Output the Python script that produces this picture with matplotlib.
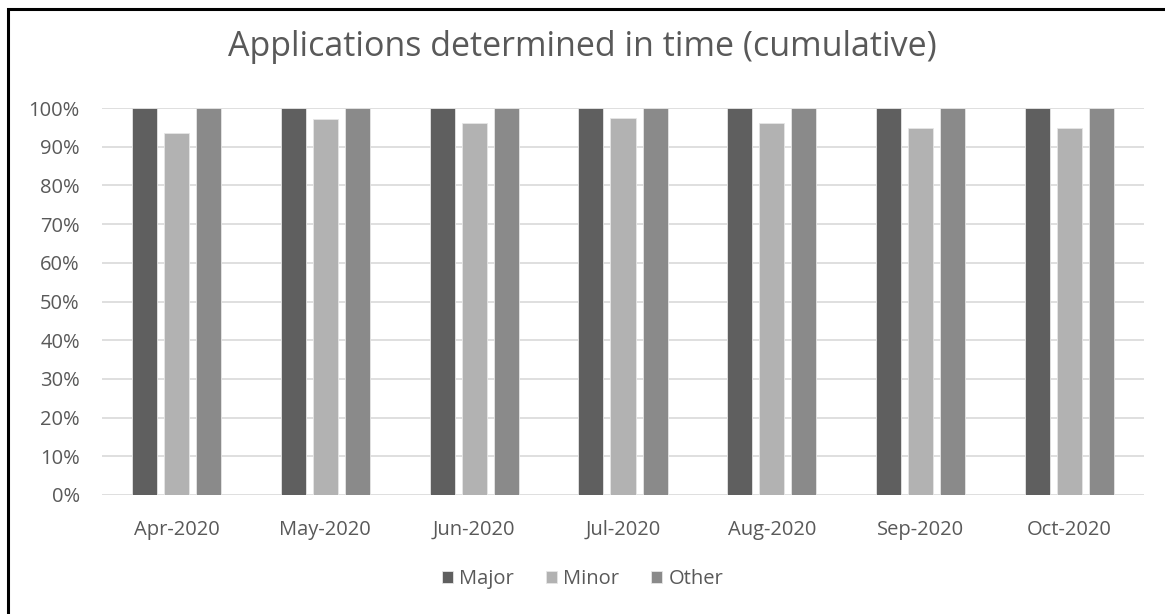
import matplotlib
matplotlib.use("Agg")
import matplotlib.pyplot as plt
import numpy as np
from matplotlib.patches import Rectangle

months = ["Apr-2020", "May-2020", "Jun-2020", "Jul-2020", "Aug-2020", "Sep-2020", "Oct-2020"]
major = [1.00, 1.00, 1.00, 1.00, 1.00, 1.00, 1.00]
minor = [0.935, 0.971, 0.960, 0.973, 0.960, 0.948, 0.948]
other = [1.00, 1.00, 1.00, 1.00, 1.00, 1.00, 1.00]
series_names = ["Major", "Minor", "Other"]
colors = ["#5f5f5f", "#b2b2b2", "#8a8a8a"]
yticks = [i / 10 for i in range(11)]
ytick_labels = [f"{i*10}%" for i in range(11)]

plt.rcParams['font.family'] = ['Open Sans', 'DejaVu Sans']
text_color = "#595959"

fig = plt.figure(figsize=(11.65, 6.14), dpi=100)
ax = fig.add_axes([102/1165, 1-495/614, (1144-102)/1165, (495-108)/614])

x = np.arange(len(months))
w = 0.168
pitch = 0.215
for i, (vals, name, c) in enumerate(zip([major, minor, other], series_names, colors)):
    ax.bar(x + (i - 1) * pitch, vals, width=w, color=c, label=name,
           edgecolor="#e6e6e6", linewidth=0.6, zorder=3)

ax.set_xlim(-0.5, len(months) - 0.5)
ax.set_ylim(0, 1.0)
ax.set_yticks(yticks)
ax.set_yticklabels(ytick_labels)
ax.set_xticks(x)
ax.set_xticklabels(months)
ax.grid(axis="y", color="#d9d9d9", linewidth=1.2, zorder=0)
ax.set_axisbelow(True)
for s in ax.spines.values():
    s.set_visible(False)
ax.tick_params(axis="both", length=0, colors=text_color, labelsize=14.5)
ax.tick_params(axis="y", pad=16)
ax.tick_params(axis="x", pad=18)

fig.text(0.5, 1-47/614, "Applications determined in time (cumulative)",
         ha="center", va="center", fontsize=24.5, color=text_color)

leg = fig.legend(loc="center", bbox_to_anchor=(0.5, 1-579/614), ncol=3, frameon=False,
                 fontsize=14.5, handlelength=0.55, handleheight=0.55, handletextpad=0.3,
                 columnspacing=1.6)
for t in leg.get_texts():
    t.set_color(text_color)

fig.patches.append(Rectangle((8/1165, -0.1), 1.2, (1-9/614) + 0.1, transform=fig.transFigure,
                             fill=False, edgecolor="black", linewidth=2.2, zorder=10))

fig.savefig("out.png", dpi=100)
